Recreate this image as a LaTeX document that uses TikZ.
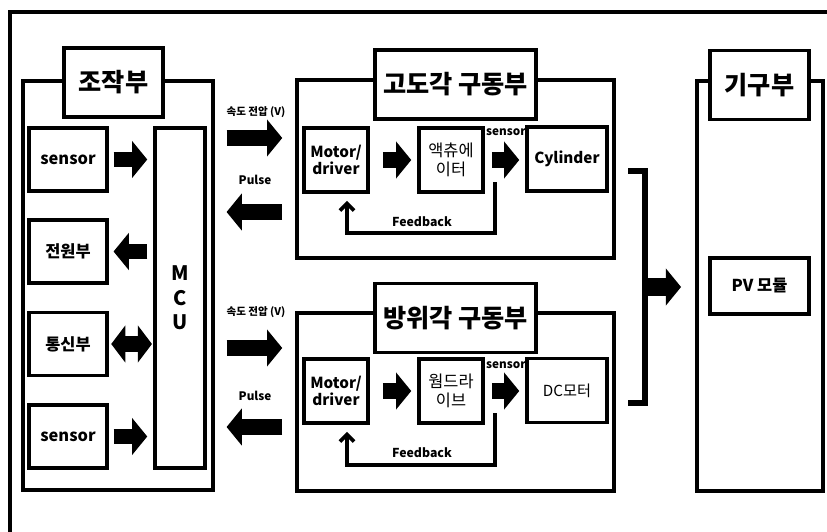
\documentclass[tikz,border=0pt]{standalone}
\usepackage{fontspec}
\setmainfont{Noto Sans CJK KR}
\usetikzlibrary{arrows.meta, positioning, calc}

\begin{document}
\begin{tikzpicture}[
        x = 0.03cm, y = -0.03cm,
        grp/.style = {draw, line width = 3.2pt, inner sep = 0pt},
        hbox/.style = {
            grp, fill = white,
            minimum width = 2.97cm, minimum height = 2.07cm,
            font = \fontsize{21.5}{24}\selectfont\bfseries
        },
        blk/.style = {
            grp, align = center,
            minimum width = 2.34cm, minimum height = 1.89cm,
            font = \fontsize{14}{16}\selectfont\bfseries
        },
        dblk/.style = {
            blk, minimum width = 1.92cm, minimum height = 1.92cm,
            font = \fontsize{13}{15}\selectfont\bfseries
        },
        fatarr/.style = {
            line width = 13pt,
            -{Triangle[length = 13pt, width = 31pt]}
        },
        twoarr/.style = {
            line width = 13pt,
            {Triangle[length = 12pt, width = 31pt]}-{Triangle[length = 12pt, width = 31pt]}
        },
        fbarr/.style = {
            line width = 3.2pt,
            -{Straight Barb[length = 6pt, width = 12pt]}
        },
        lbl/.style = {inner sep = 0pt, font = \fontsize{9}{11}\selectfont\bfseries}
    ]
    \useasboundingbox (0,0) rectangle (827,532);
    \draw[line width = 2.6pt] (10,545) -- (10,12) -- (840,12);

    % 조작부
    \node[grp, minimum width = 5.7cm, minimum height = 12.27cm] (ctl) at (118,285.5) {};
    \node[hbox] (ctlT) at (113.5,82.5) {조작부};
    \node[blk] (sen1) at (68,159.5) {sensor};
    \node[blk] (pwr) at (68,251.5) {전원부};
    \node[blk] (com) at (68,344) {통신부};
    \node[blk] (sen2) at (68,436.5) {sensor};
    \node[grp, align = center, minimum width = 1.5cm, minimum height = 10.2cm,
        font = \fontsize{17}{21}\selectfont\bfseries] (mcu) at (180,298) {M\\C\\U};

    \draw[fatarr, shorten < = 4pt, shorten > = 5pt] (sen1.east) -- (sen1.east -| mcu.west);
    \draw[fatarr, shorten < = 5pt, shorten > = 4pt] (pwr.east -| mcu.west) -- (pwr.east);
    \draw[twoarr, shorten < = 2pt, shorten > = 1pt] (com.east) -- (com.east -| mcu.west);
    \draw[fatarr, shorten < = 4pt, shorten > = 5pt] (sen2.east) -- (sen2.east -| mcu.west);

    % 구동부
    \node[grp, minimum width = 9.51cm, minimum height = 5.34cm] (alt) at (455.5,169) {};
    \node[grp, minimum width = 9.51cm, minimum height = 5.34cm] (azi) at (455.5,402) {};

    \coordinate (v1) at (0,138);
    \coordinate (p1) at (0,212);
    \coordinate (v2) at (0,348);
    \coordinate (p2) at (0,427);
    \draw[fatarr, shorten < = 10pt, shorten > = 11pt] (ctl.east |- v1) -- (alt.west |- v1);
    \draw[fatarr, shorten < = 11pt, shorten > = 10pt] (alt.west |- p1) -- (ctl.east |- p1);
    \draw[fatarr, shorten < = 10pt, shorten > = 11pt] (ctl.east |- v2) -- (azi.west |- v2);
    \draw[fatarr, shorten < = 11pt, shorten > = 10pt] (azi.west |- p2) -- (ctl.east |- p2);
    \node[lbl] (v1lbl) at (256,112) {속도 전압 (V)};
    \node[lbl, font = \fontsize{10}{12}\selectfont\bfseries] (p1lbl) at (255,180) {Pulse};
    \node[lbl] (v2lbl) at (256,312) {속도 전압 (V)};
    \node[lbl, font = \fontsize{10}{12}\selectfont\bfseries] (p2lbl) at (255,396) {Pulse};

    % 고도각
    \node[hbox, minimum width = 4.83cm] (altT) at (455.5,84.5) {고도각 구동부};
    \node[dblk] (drv1) at (336,160) {Motor/\\driver};
    \node[dblk, font = \fontsize{14}{16}\selectfont] (act) at (451,160) {액츄에\\이터};
    \node[dblk, minimum width = 2.4cm] (cyl) at (567,159) {Cylinder};
    \draw[fatarr, shorten < = 11pt, shorten > = 5pt] (drv1) -- (act);
    \draw[fatarr, shorten < = 6pt, shorten > = 5pt] (act) -- (act -| cyl.west);
    \node[lbl, font = \fontsize{10}{12}\selectfont\bfseries] (s1lbl) at (506,132) {sensor};
    \coordinate (fb1) at (495,182);
    \coordinate (fb2) at (347,233);
    \draw[fbarr, shorten > = 6pt] (fb1) |- (fb2) -- (fb2 |- drv1.south);
    \node[lbl, font = \fontsize{10.5}{12}\selectfont\bfseries] (f1lbl) at (422,222) {Feedback};

    % 방위각
    \node[hbox, minimum width = 4.83cm] (aziT) at (455.5,318) {방위각 구동부};
    \node[dblk] (drv2) at (336,391) {Motor/\\driver};
    \node[dblk, font = \fontsize{14}{16}\selectfont] (worm) at (451,391) {웜드라\\이브};
    \node[dblk, minimum width = 2.4cm, font = \fontsize{13}{15}\selectfont] (dcm) at (567,390.5) {DC모터};
    \draw[fatarr, shorten < = 11pt, shorten > = 5pt] (drv2) -- (worm);
    \draw[fatarr, shorten < = 6pt, shorten > = 5pt] (worm) -- (worm -| dcm.west);
    \node[lbl, font = \fontsize{10}{12}\selectfont\bfseries] (s2lbl) at (506,365) {sensor};
    \coordinate (fb3) at (495,413);
    \coordinate (fb4) at (347,465);
    \draw[fbarr, shorten > = 6pt] (fb3) |- (fb4) -- (fb4 |- drv2.south);
    \node[lbl, font = \fontsize{10.5}{12}\selectfont\bfseries] (f2lbl) at (422,453) {Feedback};

    % 기구부
    \node[grp, minimum width = 3.78cm, minimum height = 12.3cm] (mech) at (760,286) {};
    \node[hbox] (mechT) at (759.5,85) {기구부};
    \node[blk, minimum width = 2.97cm, minimum height = 1.68cm] (pv) at (759.5,286) {PV 모듈};

    \coordinate (brT) at (628,171);
    \coordinate (brB) at (628,403);
    \coordinate (brM) at (645,287);
    \draw[line width = 5pt] (brT) -| (brB -| brM) -- (brB);
    \draw[fatarr, line width = 16pt, shorten > = 12pt] (brM) -- (mech.west |- brM);
\end{tikzpicture}
\end{document}
